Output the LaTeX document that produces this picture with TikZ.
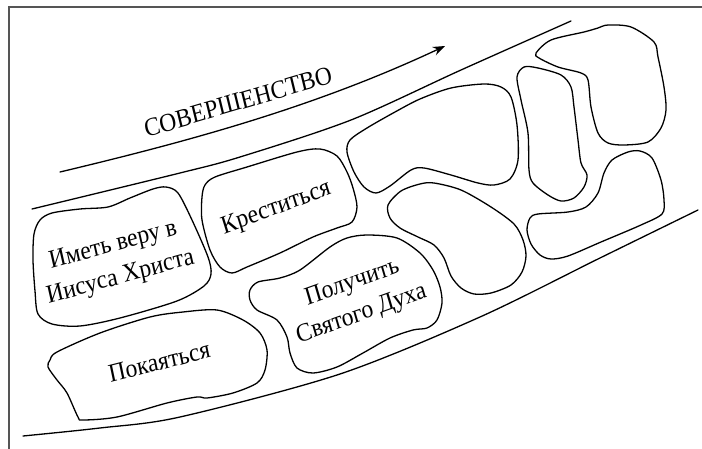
\documentclass[tikz,border=0pt]{standalone}
\usepackage{fontspec}
\setmainfont{Liberation Serif}
\usetikzlibrary{arrows.meta}
\definecolor{framegray}{RGB}{85,85,85}
\tikzset{
  blob/.style={draw=black, line width=1.3pt, line join=round},
  lane/.style={draw=black, line width=1.3pt, line cap=round},
  frameline/.style={draw=framegray, line width=1.6pt},
  lbl/.style={font=\fontsize{23.5}{30}\selectfont, inner sep=0pt, align=center, yscale=1.1}
}
\begin{document}
\begin{tikzpicture}[x=1pt, y=-1pt]
\useasboundingbox (0,0) rectangle (702,449);
% frame
\draw[frameline] (9,449) -- (9,7) -- (702,7);
% lanes
\draw[lane] plot[smooth] coordinates {(32,209) (180,173) (240,157) (351,120) (461,70) (571,21)};
\draw[lane] plot[smooth] coordinates {(23,436) (100,428) (180,417) (340,374) (480,317) (600,258) (698,210)};
% arrow
\draw[lane, -{Stealth[length=12pt, width=9pt]}] (60,172) .. controls (190,141) and (315,107) .. (445,46);
\node[lbl, anchor=base, rotate=15] (title) at (240,110) {СОВЕРШЕНСТВО};
% blobs
\draw[blob] plot[smooth cycle] coordinates {(108,207) (130,198) (153,189) (166,187) (178,193) (192,220) (208,257) (211,274) (204,286) (177,301) (120,318) (80,326) (52,324) (38,314) (35,291) (33,260) (34,234) (40,220) (52,213) (80,209)};
\draw[blob] plot[smooth cycle] coordinates {(205,185) (215,177) (247,167) (297,152) (320,149) (337,156) (347,172) (353,188) (357,207) (352,222) (337,228) (313,237) (280,253) (247,267) (232,273) (220,267) (210,250) (202,220) (202,197)};
\draw[blob] plot[smooth cycle] coordinates {(350,140) (367,128) (395,112) (420,99) (451,88) (484,84) (501,87) (511,97) (517,125) (518,160) (510,179) (494,185) (478,183) (451,175) (424,168) (411,170) (390,186) (376,193) (364,187) (354,172) (347,152)};
\draw[blob] plot[smooth cycle] coordinates {(517,77) (524,67) (538,68) (561,75) (571,87) (574,107) (578,140) (581,163) (587,175) (584,187) (574,198) (561,201) (548,195) (533,183) (529,170) (528,133) (521,100)};
\draw[blob] plot[smooth cycle] coordinates {(536,53) (551,40) (584,32) (598,28) (608,25) (631,27) (654,42) (658,57) (664,87) (666,110) (661,128) (648,142) (624,145) (608,143) (598,133) (591,107) (588,80) (581,73) (558,67) (539,58)};
\draw[blob] plot[smooth cycle] coordinates {(388,205) (401,191) (420,184) (434,183) (461,190) (491,207) (514,224) (523,240) (526,256) (522,272) (511,285) (491,293) (474,294) (461,288) (451,276) (444,258) (434,245) (418,237) (400,228) (390,218)};
\draw[blob] plot[smooth cycle] coordinates {(530,218) (538,214) (568,212) (586,207) (598,193) (604,173) (612,160) (628,152) (640,151) (652,158) (661,180) (664,200) (662,214) (641,225) (601,242) (568,256) (551,259) (540,255) (531,244) (527,230)};
\draw[blob] plot[smooth cycle] coordinates {(250,290) (258,282) (280,278) (300,270) (330,247) (347,238) (367,235) (397,238) (420,253) (433,270) (440,287) (442,303) (437,320) (427,328) (413,330) (390,338) (363,353) (337,367) (313,373) (297,368) (290,353) (287,337) (277,320) (257,310) (250,300)};
\draw[blob] plot[smooth cycle] coordinates {(50,360) (57,352) (100,333) (150,317) (183,312) (217,310) (243,320) (260,333) (267,350) (265,370) (257,383) (233,393) (207,398) (197,397) (167,403) (117,417) (83,420) (78,417) (67,393) (57,380) (48,367)};
% labels
\node[lbl, rotate=14] (faith) at (117,262) {Иметь веру в\\Иисуса Христа};
\node[lbl, anchor=base, rotate=19] (baptize) at (278,214) {Креститься};
\node[lbl, rotate=18] (spirit) at (357,299) {Получить\\Святого Духа};
\node[lbl, anchor=base, rotate=13] (repent) at (161,370) {Покаяться};
\end{tikzpicture}
\end{document}
